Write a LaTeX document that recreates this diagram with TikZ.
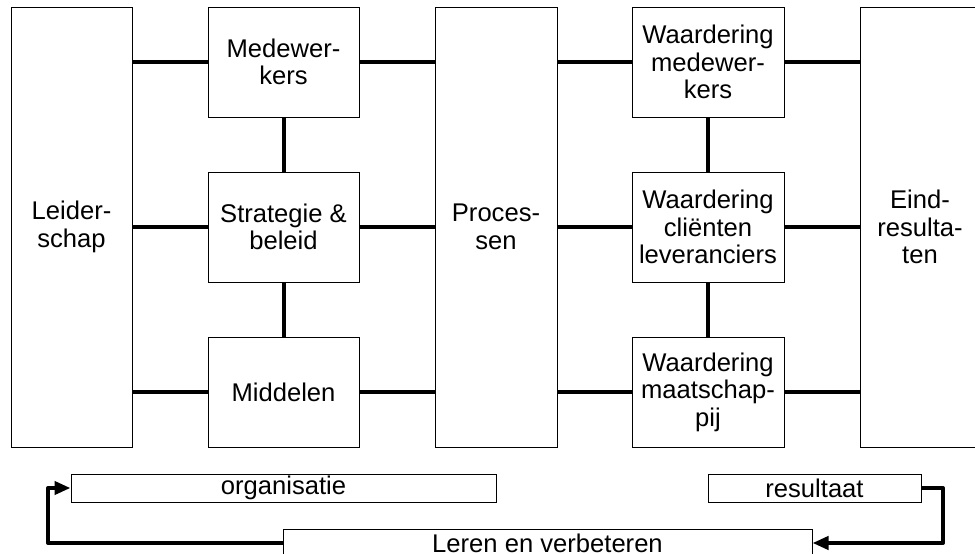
\documentclass[tikz,border=0pt]{standalone}
\usepackage{fontspec}
\setmainfont{Liberation Sans}
\usetikzlibrary{arrows.meta}
\begin{document}
\begin{tikzpicture}[x=1pt,y=-1pt,
  box/.style={draw, line width=1pt, inner sep=0pt, align=center,
    font=\fontsize{25.6}{27.5}\selectfont},
  link/.style={line width=4pt},
  flow/.style={line width=4pt, line join=round, -{Triangle[length=16pt,width=13pt]}}]
\useasboundingbox (0,0) rectangle (975,554);
\clip (0,0) rectangle (975,554);
% tall boxes
\node[box, minimum width=121pt, minimum height=440pt] (lead) at (71.5,227) {Leider-\\schap};
\node[box, minimum width=122pt, minimum height=440pt] (proc) at (496,227) {Proces-\\sen};
\node[box, minimum width=120pt, minimum height=440pt] (eind) at (920,227) {Eind-\\resulta-\\ten};
% left column
\node[box, minimum width=151pt, minimum height=110pt] (med) at (283.5,62) {Medewer-\\kers};
\node[box, minimum width=151pt, minimum height=110pt] (strat) at (283.5,227) {Strategie \&\\beleid};
\node[box, minimum width=151pt, minimum height=110pt] (midd) at (283.5,392) {Middelen};
% right column
\node[box, minimum width=152pt, minimum height=110pt] (wm) at (708,62) {Waardering\\medewer-\\kers};
\node[box, minimum width=152pt, minimum height=110pt] (wc) at (708,227) {Waardering\\cliënten\\leveranciers};
\node[box, minimum width=152pt, minimum height=110pt] (wmaat) at (708,392) {Waardering\\maatschap-\\pij};
% bottom bars
\node[box, minimum width=425pt, minimum height=28pt] (org) at (283.5,488) {organisatie};
\node[box, minimum width=213pt, minimum height=28pt] (res) at (814.5,488) {resultaat};
\node[box, minimum width=529pt, minimum height=28pt] (leren) at (547.5,543) {Leren en verbeteren};
% horizontal links
\foreach \b in {med,strat,midd}{
  \draw[link] (\b.west -| lead.east) -- (\b.west);
  \draw[link] (\b.east) -- (\b.east -| proc.west);
}
\foreach \b in {wm,wc,wmaat}{
  \draw[link] (\b.west -| proc.east) -- (\b.west);
  \draw[link] (\b.east) -- (\b.east -| eind.west);
}
% vertical links
\draw[link] (med.south) -- (strat.north);
\draw[link] (strat.south) -- (midd.north);
\draw[link] (wm.south) -- (wc.north);
\draw[link] (wc.south) -- (wmaat.north);
% feedback arrows
\coordinate (lcorner) at (48,543);
\coordinate (rcorner) at (943,488);
\draw[flow] (leren.west) -- (lcorner) |- (org.west);
\draw[flow] (res.east) -- (rcorner) |- (leren.east);
\end{tikzpicture}
\end{document}
